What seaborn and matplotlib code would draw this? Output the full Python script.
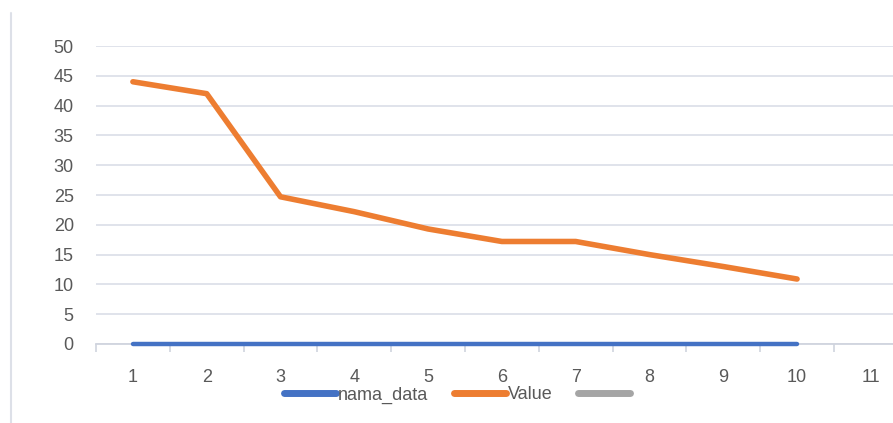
import matplotlib
matplotlib.use('Agg')
import matplotlib.pyplot as plt
from matplotlib.lines import Line2D
import seaborn as sns
import pandas as pd

# data
categories = [1, 2, 3, 4, 5, 6, 7, 8, 9, 10]
nama_data = [0, 0, 0, 0, 0, 0, 0, 0, 0, 0]
value = [44.0, 42.0, 24.7, 22.2, 19.3, 17.2, 17.2, 15.0, 13.0, 10.9]
x_ticks = list(range(1, 12))
y_ticks = list(range(0, 55, 5))
series_names = ['nama_data', 'Value', '']
series_colors = ['#4472C4', '#ED7D31', '#A5A5A5']

sns.set_theme(style='white')
plt.rcParams['font.family'] = ['Liberation Sans', 'DejaVu Sans']

fig = plt.figure(figsize=(8.93, 4.23), dpi=100, facecolor='white')
ax = fig.add_axes([96 / 893, 1 - 344 / 423, 1 - 96 / 893, (344 - 46) / 423])

df = pd.DataFrame({'x': categories, 'nama_data': nama_data, 'Value': value})
sns.lineplot(data=df, x='x', y='nama_data', ax=ax, color=series_colors[0], linewidth=3.2,
             solid_capstyle='round', zorder=5, clip_on=False)
sns.lineplot(data=df, x='x', y='Value', ax=ax, color=series_colors[1], linewidth=4.0,
             solid_capstyle='round', solid_joinstyle='round', zorder=5)

ax.set_xlim(0.5, 11.3)
ax.set_ylim(0, 50)
ax.set_yticks(y_ticks)
ax.set_xticks(x_ticks)
ax.set_xticks([t - 0.5 for t in x_ticks], minor=True)
ax.set_xlabel('')
ax.set_ylabel('')

ax.grid(axis='y', color='#dde0e9', linewidth=1.3)
ax.set_axisbelow(True)
for s in ['top', 'right', 'left']:
    ax.spines[s].set_visible(False)
ax.spines['bottom'].set_color('#d0d4de')
ax.spines['bottom'].set_linewidth(1.3)

ax.tick_params(axis='y', left=False, length=0, pad=16, labelsize=13, labelcolor='#595959')
ax.tick_params(axis='x', which='major', bottom=False, length=0, pad=18, labelsize=13,
               labelcolor='#595959')
ax.tick_params(axis='x', which='minor', bottom=True, length=6, width=1.2, color='#d0d4de',
               direction='out')

# left border of the pasted chart
fig.add_artist(Line2D([11 / 893, 11 / 893], [0, 1 - 13 / 423], color='#dde0e8', linewidth=1.5))

# legend sits just under the tick labels, as in the reference
handles = [Line2D([], [], color=c, linewidth=5, solid_capstyle='round') for c in series_colors]
fig.legend(handles, series_names, loc='center', bbox_to_anchor=(458 / 893, 1 - 395 / 423),
           ncol=3, frameon=False, fontsize=13, labelcolor='#595959',
           handlelength=2.9, handletextpad=0.1, columnspacing=1.4)

fig.savefig('out.png', dpi=100, facecolor='white')
